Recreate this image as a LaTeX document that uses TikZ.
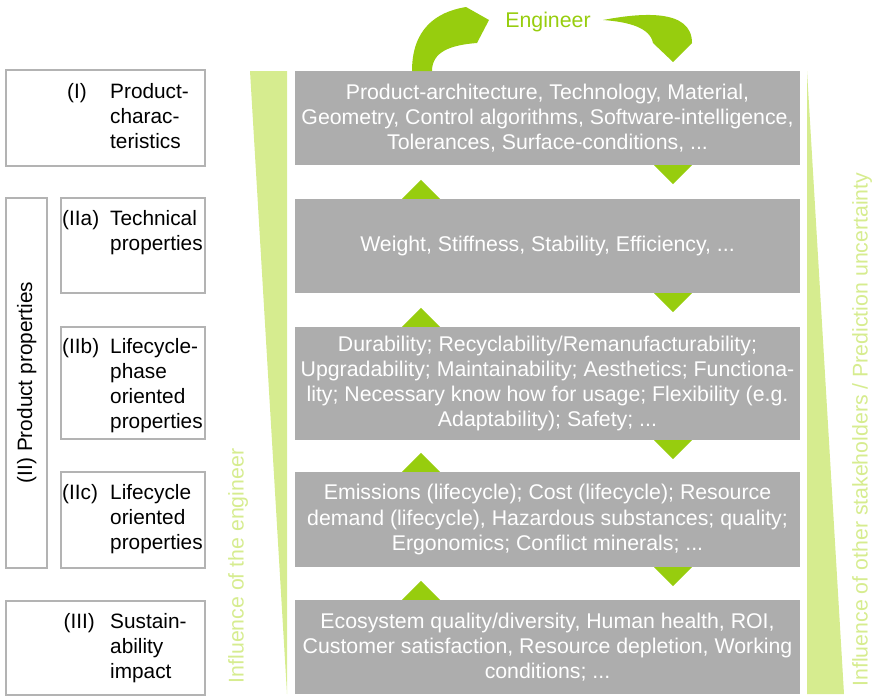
\documentclass[tikz,border=0pt]{standalone}
\usepackage{fontspec}
\setmainfont{Liberation Sans}
\definecolor{boxgrey}{HTML}{ADADAD}
\definecolor{framegrey}{HTML}{B3B3B3}
\definecolor{engreen}{HTML}{97CD0E}
\definecolor{lightgreen}{HTML}{D6EC8F}
\tikzset{
  greybox/.style={fill=boxgrey, text=white, minimum width=505pt, inner sep=0pt,
    align=center, font=\fontsize{21.3}{25.3}\selectfont},
  levelbox/.style={draw=framegrey, line width=2pt, inner sep=0pt},
  leveltext/.style={anchor=base west, inner sep=0pt, align=left,
    font=\fontsize{20.8}{25}\selectfont},
  sidelabel/.style={rotate=90, inner sep=0pt, text=lightgreen,
    font=\fontsize{21.3}{25}\selectfont},
}
\begin{document}
\begin{tikzpicture}[x=1pt,y=-1pt]
  \useasboundingbox (0,0) rectangle (874,696);
  % wedges
  \fill[lightgreen] (250,71) -- (287,71) -- (287,694) -- cycle;
  \fill[lightgreen] (807,71) -- (844,694) -- (807,694) -- cycle;
  \node[sidelabel] (infleng) at (238,566) {Influence of the engineer};
  \node[sidelabel] (inflother) at (862,429.5) {Influence of other stakeholders / Prediction uncertainty};
  % left frames
  \node[levelbox, minimum width=199pt, minimum height=96pt] (lvlI) at (105.5,118) {};
  \node[levelbox, minimum width=41pt, minimum height=370pt] (lvlII) at (26.5,383) {};
  \node[levelbox, minimum width=144pt, minimum height=95pt] (lvlIIa) at (133,245.5) {};
  \node[levelbox, minimum width=144pt, minimum height=112pt] (lvlIIb) at (133,383) {};
  \node[levelbox, minimum width=144pt, minimum height=96pt] (lvlIIc) at (133,520) {};
  \node[levelbox, minimum width=199pt, minimum height=94pt] (lvlIII) at (105.5,648) {};
  \node[sidelabel, text=black, font=\fontsize{20.8}{25}\selectfont] (lblII) at (26.7,382.5) {(II) Product properties};
  % texts sit on the baseline of their last line
  \node[leveltext] (numI) at (67,98.5) {(I)};
  \node[leveltext] (txtI) at (110,148.5) {Product-\\charac-\\teristics};
  \node[leveltext] (numIIa) at (62,225) {(IIa)};
  \node[leveltext] (txtIIa) at (110,250) {Technical\\properties};
  \node[leveltext] (numIIb) at (62,353) {(IIb)};
  \node[leveltext] (txtIIb) at (110,428) {Lifecycle-\\phase\\oriented\\properties};
  \node[leveltext] (numIIc) at (62,499) {(IIc)};
  \node[leveltext] (txtIIc) at (110,549) {Lifecycle\\oriented\\properties};
  \node[leveltext] (numIII) at (63.5,628) {(III)};
  \node[leveltext] (txtIII) at (110,678) {Sustain-\\ability\\impact};
  % grey boxes
  \node[greybox, minimum height=94pt] (b1) at (547.5,118)
    {Product-architecture, Technology, Material,\\Geometry, Control algorithms, Software-intelligence,\\Tolerances, Surface-conditions, ...};
  \node[greybox, minimum height=94pt] (b2) at (547.5,246)
    {Weight, Stiffness, Stability, Efficiency, ...};
  \node[greybox, minimum height=113pt] (b3) at (547.5,383.5)
    {Durability; Recyclability/Remanufacturability;\\Upgradability; Maintainability; Aesthetics; Functiona-\\lity; Necessary know how for usage; Flexibility (e.g.\\Adaptability); Safety; ...};
  \node[greybox, minimum height=95pt] (b4) at (547.5,519.5)
    {Emissions (lifecycle); Cost (lifecycle); Resource\\demand (lifecycle), Hazardous substances; quality;\\Ergonomics; Conflict minerals; ...};
  \node[greybox, minimum height=94pt] (b5) at (547.5,647)
    {Ecosystem quality/diversity, Human health, ROI,\\Customer satisfaction, Resource depletion, Working\\conditions; ...};
  % small arrows between the boxes
  \fill[engreen] ([xshift=106.5pt]b1.south) -- ([xshift=144.5pt]b1.south) -- ([xshift=125.5pt,yshift=-19pt]b1.south) -- cycle;
  \fill[engreen] ([xshift=106.5pt]b2.south) -- ([xshift=144.5pt]b2.south) -- ([xshift=125.5pt,yshift=-19pt]b2.south) -- cycle;
  \fill[engreen] ([xshift=106.5pt]b3.south) -- ([xshift=144.5pt]b3.south) -- ([xshift=125.5pt,yshift=-19pt]b3.south) -- cycle;
  \fill[engreen] ([xshift=106.5pt]b4.south) -- ([xshift=144.5pt]b4.south) -- ([xshift=125.5pt,yshift=-19pt]b4.south) -- cycle;
  \fill[engreen] ([xshift=-145.5pt]b2.north) -- ([xshift=-107.5pt]b2.north) -- ([xshift=-126.5pt,yshift=19pt]b2.north) -- cycle;
  \fill[engreen] ([xshift=-145.5pt]b3.north) -- ([xshift=-107.5pt]b3.north) -- ([xshift=-126.5pt,yshift=19pt]b3.north) -- cycle;
  \fill[engreen] ([xshift=-145.5pt]b4.north) -- ([xshift=-107.5pt]b4.north) -- ([xshift=-126.5pt,yshift=19pt]b4.north) -- cycle;
  \fill[engreen] ([xshift=-145.5pt]b5.north) -- ([xshift=-107.5pt]b5.north) -- ([xshift=-126.5pt,yshift=19pt]b5.north) -- cycle;
  % engineer loop
  \node[text=engreen, font=\fontsize{21.3}{25}\selectfont] (eng) at (548,21.5) {Engineer};
  \fill[engreen] (412,71) .. controls (412,30) and (435,12) .. (466,7) -- (489,20) -- (477,43)
    .. controls (450,45) and (432,52) .. (432,71) -- cycle;
  \fill[engreen] (603,20) .. controls (640,13) and (692,8) .. (692,43) -- (673,62) -- (653,43)
    .. controls (650,28) and (630,22) .. (603,20) -- cycle;
\end{tikzpicture}
\end{document}
